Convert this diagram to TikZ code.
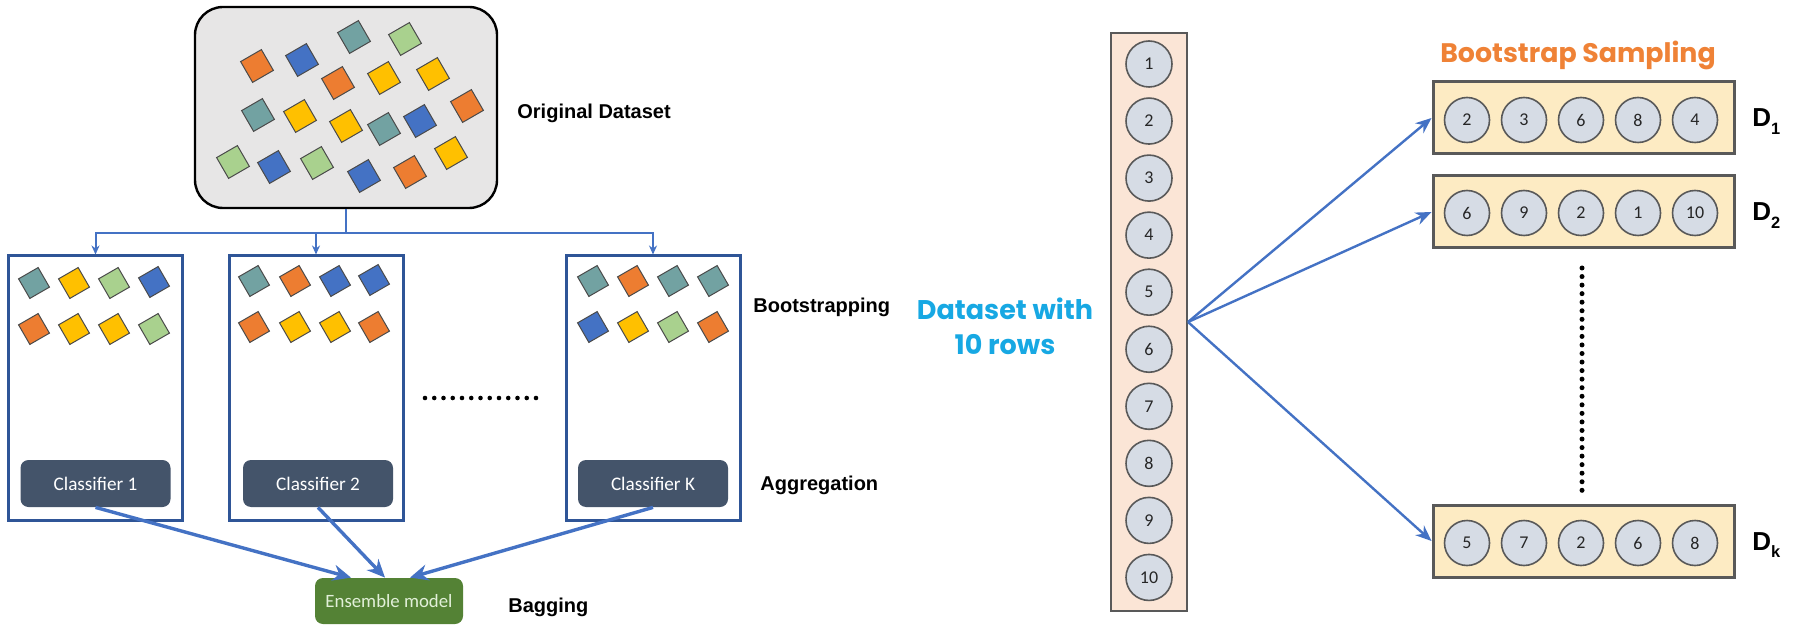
\documentclass[tikz,border=0pt]{standalone}
\usepackage{fontspec}
\setmainfont{Liberation Sans}
\newfontfamily\calib{Carlito}
\newfontfamily\geo{Poppins}
\usetikzlibrary{arrows.meta,calc}

\definecolor{tOrange}{HTML}{ED7D31}
\definecolor{tBlue}{HTML}{4472C4}
\definecolor{tTeal}{HTML}{72A2A2}
\definecolor{tGreen}{HTML}{A9D18E}
\definecolor{tYellow}{HTML}{FFC000}
\definecolor{tileRim}{HTML}{4A4A4A}
\definecolor{frameBlue}{HTML}{2F5597}
\definecolor{arrowBlue}{HTML}{4472C4}
\definecolor{slate}{HTML}{44546A}
\definecolor{leaf}{HTML}{548235}
\definecolor{leafText}{HTML}{E2F0D9}
\definecolor{peach}{HTML}{FBE5D6}
\definecolor{cream}{HTML}{FDEBC3}
\definecolor{bubble}{HTML}{D6DCE5}
\definecolor{rim}{HTML}{595959}
\definecolor{sky}{HTML}{17A8E3}
\definecolor{tangerine}{HTML}{EF8236}
\definecolor{paper}{HTML}{E7E6E6}

\tikzset{
  tile/.style={draw=tileRim, line width=0.5pt, fill=#1, minimum size=12pt,
               inner sep=0pt, rotate=30},
  smalltile/.style={tile=#1, minimum size=11.3pt},
  origbox/.style={draw=black, line width=1.2pt, fill=paper, rounded corners=14pt,
                  minimum width=151pt, minimum height=100.5pt, inner sep=0pt},
  bagbox/.style={draw=frameBlue, line width=1.5pt, fill=white,
                 minimum width=87pt, minimum height=132pt, inner sep=0pt},
  clf/.style={fill=slate, rounded corners=4pt, text=white, inner sep=0pt,
              minimum width=75pt, minimum height=23.5pt,
              font=\calib\fontsize{9.6}{11}\selectfont},
  ens/.style={fill=leaf, rounded corners=4pt, text=leafText, inner sep=0pt,
              minimum width=74pt, minimum height=23pt,
              font=\calib\fontsize{9.4}{11}\selectfont},
  lbl/.style={inner sep=0pt, anchor=base west,
              font=\fontsize{10}{12}\selectfont\bfseries},
  feed/.style={draw=arrowBlue, line width=1pt},
  feedarrow/.style={feed, -{Stealth[length=4.5pt, width=4pt]}},
  vote/.style={draw=arrowBlue, line width=1.7pt, -{Stealth[length=9pt, width=8pt]}},
  spread/.style={draw=arrowBlue, line width=1.2pt, -{Stealth[length=8pt, width=6.5pt]}},
  column/.style={draw=rim, line width=1pt, fill=peach, inner sep=0pt,
                 minimum width=38pt, minimum height=289pt},
  rowdot/.style={circle, draw=rim, line width=0.8pt, fill=bubble, inner sep=0pt,
                 minimum size=23pt, text=black!85,
                 font=\calib\fontsize{9}{10}\selectfont},
  sample/.style={draw=rim, line width=1.5pt, fill=cream, inner sep=0pt,
                 minimum width=150.5pt, minimum height=36pt},
  sampledot/.style={rowdot, minimum size=22.5pt},
  dlabel/.style={inner sep=0pt, anchor=base west,
                 font=\fontsize{13}{15}\selectfont\bfseries},
}
\newcommand{\dsub}[1]{\raisebox{-3.6pt}{\fontsize{8.2}{9}\selectfont #1}}

\begin{document}
\begin{tikzpicture}[x=0.5pt, y=-0.5pt]
\useasboundingbox (0,0) rectangle (1802,625);

% ---------------- left: bagging overview ----------------
\node[origbox] (orig) at (346,107.5) {};
\foreach \px/\py/\c [count=\k] in {
  257/66/tOrange, 302/60/tBlue, 354/37/tTeal, 405/39/tGreen,
  338/83/tOrange, 384/78/tYellow, 433/74/tYellow,
  258/115/tTeal, 300/116/tYellow, 346/126/tYellow, 384/129/tTeal,
  420/121/tBlue, 467/106/tOrange,
  233/162/tGreen, 274/167/tBlue, 317/163/tGreen, 364/176/tBlue,
  410/172/tOrange, 451/153/tYellow}
  \node[tile=\c] (o\k) at (\px,\py) {};
\node[lbl] (origlbl) at (517,119) {Original Dataset};

% bootstrap samples, one box per classifier
\node[bagbox] (b1) at (95.5,388) {};
\node[bagbox] (b2) at (316,388) {};
\node[bagbox] (bK) at (653,388) {};

\foreach \px/\py/\c [count=\k] in {
  34/283/tTeal, 74/283/tYellow, 114/283/tGreen, 154/282/tBlue,
  34/329/tOrange, 74/329/tYellow, 114/329/tYellow, 154/329/tGreen}
  \node[smalltile=\c] (s1-\k) at (\px,\py) {};
\foreach \px/\py/\c [count=\k] in {
  254/281/tTeal, 295/281/tOrange, 335/281/tBlue, 374/280/tBlue,
  254/327/tOrange, 295/327/tYellow, 335/327/tYellow, 374/327/tOrange}
  \node[smalltile=\c] (s2-\k) at (\px,\py) {};
\foreach \px/\py/\c [count=\k] in {
  593/281/tTeal, 633/281/tOrange, 673/281/tTeal, 713/281/tTeal,
  593/327/tBlue, 633/327/tYellow, 673/327/tGreen, 713/327/tOrange}
  \node[smalltile=\c] (sK-\k) at (\px,\py) {};

\node[clf] (c1) at (95.5,483.5) {Classifier 1};
\node[clf] (c2) at (318,483.5) {Classifier 2};
\node[clf] (cK) at (653,483.5) {Classifier K};

% splitting the dataset into the samples
\coordinate (split) at (346,233);
\draw[feed] (orig.south) -- (split);
\draw[feedarrow] (split) -| (b1.north);
\draw[feedarrow] (split) -| (bK.north);
\draw[feedarrow] (split -| b2.north) -- (b2.north);

% ellipsis between the samples
\foreach \i in {0,...,12}
  \fill (425+\i*9.25,398) circle[radius=2.3];

\node[lbl] (bootlbl) at (753,313) {Bootstrapping};
\node[lbl] (agglbl) at (760,490) {Aggregation};

% aggregation into the ensemble
\node[ens] (ens) at (389,601) {Ensemble model};
\draw[vote] (c1.south) -- ($(ens.north)+(-38,0)$);
\draw[vote] (c2.south) -- ($(ens.north)+(-4,0)$);
\draw[vote] (cK.south) -- ($(ens.north)+(21,0)$);
\node[lbl] (baglbl) at (508,612) {Bagging};

% ---------------- right: bootstrap sampling ----------------
\node[inner sep=0pt, align=center, text=sky,
      font=\geo\fontsize{13.5}{17.5}\selectfont\bfseries]
  (datalbl) at (1005,326) {Dataset with\\10 rows};

\node[column] (col) at (1149,322) {};
\foreach \i in {1,...,10}
  \node[rowdot] (r\i) at (1149,{64+(\i-1)*57.05}) {\i};

\node[inner sep=0pt, anchor=base, text=tangerine,
      font=\geo\fontsize{13.4}{15}\selectfont\bfseries]
  (samplbl) at (1578,63) {Bootstrap Sampling};

\node[sample] (d1) at (1583.5,118) {};
\node[sample] (d2) at (1583.5,212) {};
\node[sample] (dk) at (1583.5,541) {};

\foreach \n/\yy/\vals in {d1/120/{2,3,6,8,4}, d2/213/{6,9,2,1,10}, dk/543/{5,7,2,6,8}}
  \foreach \v [count=\j] in \vals
    \node[sampledot] (\n-\j) at ({1467+(\j-1)*57},\yy) {\v};

\node[dlabel] (l1) at (1752,127) {D\dsub{1}};
\node[dlabel] (l2) at (1752,221) {D\dsub{2}};
\node[dlabel] (lk) at (1752,550) {D\dsub{k}};

% vertical ellipsis between D2 and Dk
\foreach \i in {0,...,26}
  \fill (1582,268+\i*8.55) circle[radius=2.5];

\draw[spread] (col.east) -- (d1.west);
\draw[spread] (col.east) -- (d2.west);
\draw[spread] (col.east) -- (dk.west);
\end{tikzpicture}
\end{document}
